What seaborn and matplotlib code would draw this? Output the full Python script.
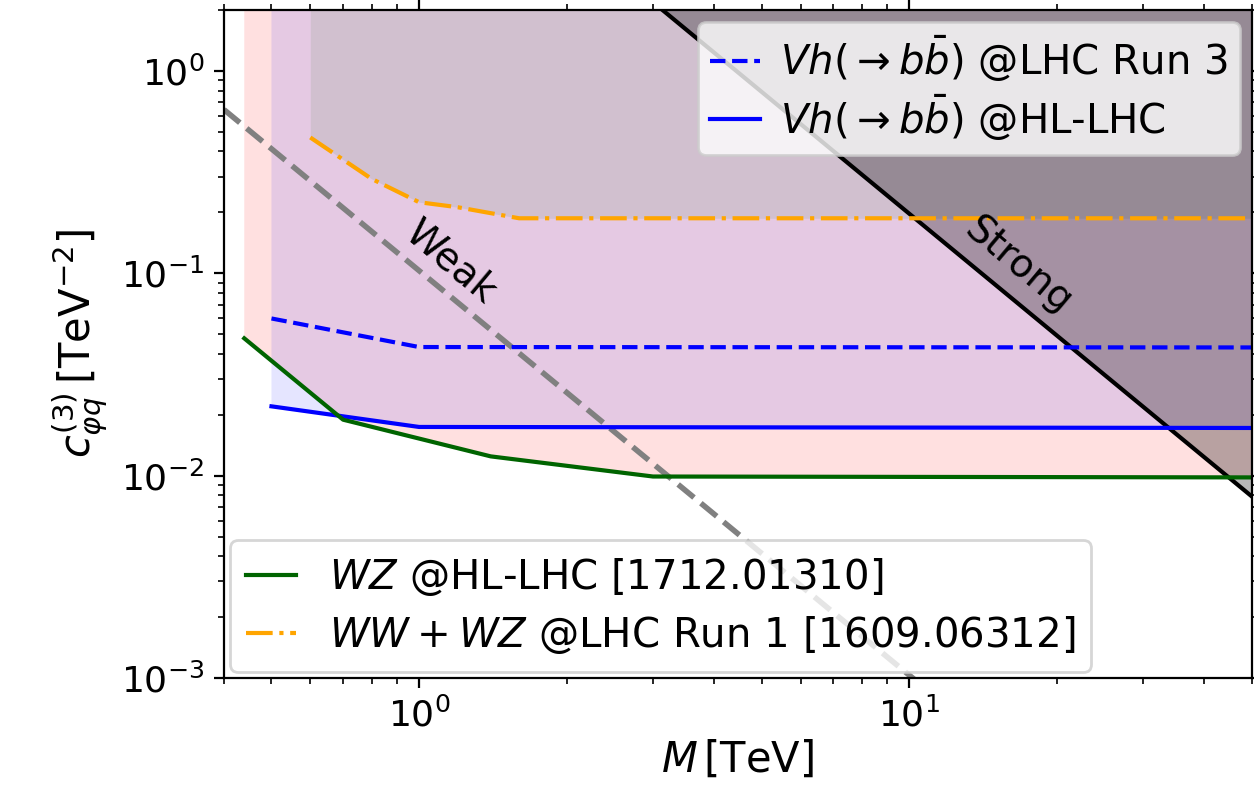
import numpy as np
import pandas as pd
import matplotlib
matplotlib.use("Agg")
import matplotlib.pyplot as plt
import seaborn as sns

# limits (M in TeV, c in TeV^-2)
wz_m = [0.44, 0.70, 1.40, 3.0, 50.0]
wz_c = [0.0477, 0.0189, 0.01245, 0.0099, 0.0098]

vh_m = [0.5, 1.0, 50.0]
vh_run3_c = [0.0598, 0.0432, 0.0430]
vh_hl_c = [0.0220, 0.0174, 0.0172]

ww_m = [0.6, 0.8, 1.0, 1.2, 1.6, 50.0]
ww_c = [0.469, 0.293, 0.2245, 0.212, 0.187, 0.187]

weak_m = [0.4, 20.0]
weak_c = [0.644, 2.58e-4]

strong_m = [0.4, 60.0]
strong_c = [123.0, 0.00547]

top = 1e3

fig, ax = plt.subplots(figsize=(6.27, 3.975), dpi=200)
fig.subplots_adjust(left=0.1786, right=0.9984, bottom=0.1472, top=0.9874)
ax.set_xscale('log')
ax.set_yscale('log')

# excluded regions
ax.fill_between(wz_m, wz_c, top, color='red', alpha=0.12, lw=0)
ax.fill_between(vh_m, vh_hl_c, top, color='blue', alpha=0.1, lw=0)
ax.fill_between(ww_m, ww_c, top, color='0.7', alpha=0.4, lw=0)
ax.fill_between(strong_m, strong_c, top, color='black', alpha=0.28, lw=0)

weak = pd.DataFrame({'M': weak_m, 'c': weak_c})
strong = pd.DataFrame({'M': strong_m, 'c': strong_c})
sns.lineplot(data=weak, x='M', y='c', ax=ax, color='gray', ls='--', lw=2, legend=False)
sns.lineplot(data=strong, x='M', y='c', ax=ax, color='black', lw=1.5, legend=False)

h_run3 = sns.lineplot(x=vh_m, y=vh_run3_c, ax=ax, color='blue', ls='--', lw=1.5).lines[-1]
h_hl = sns.lineplot(x=vh_m, y=vh_hl_c, ax=ax, color='blue', lw=1.5).lines[-1]
h_wz = sns.lineplot(x=wz_m, y=wz_c, ax=ax, color='darkgreen', lw=1.5).lines[-1]
h_ww = sns.lineplot(x=ww_m, y=ww_c, ax=ax, color='orange', ls='-.', lw=1.5).lines[-1]

ax.text(1.16, 0.113, 'Weak', rotation=-40, ha='center', va='center', fontsize=14)
ax.text(16.7, 0.109, 'Strong', rotation=-40, ha='center', va='center', fontsize=14)

ax.set_xlim(0.4, 50)
ax.set_ylim(1e-3, 2)
ax.tick_params(which='both', top=True, right=True, direction='out')
ax.tick_params(labelsize=13)
ax.set_xlabel(r'$M\,$[TeV]', fontsize=15, labelpad=2)
ax.set_ylabel(r'$c_{\varphi q}^{(3)}\,$[TeV$^{-2}$]', fontsize=15, labelpad=4)

leg1 = ax.legend([h_run3, h_hl],
                 [r'$Vh(\rightarrow b\bar{b})$ @LHC Run 3', r'$Vh(\rightarrow b\bar{b})$ @HL-LHC'],
                 loc='upper right', borderaxespad=0.3, fontsize=14.5, handlelength=1.25,
                 handletextpad=0.5, borderpad=0.3, labelspacing=0.2)
ax.add_artist(leg1)
ax.legend([h_wz, h_ww],
          [r'$WZ$ @HL-LHC [1712.01310]', r'$WW+WZ$ @LHC Run 1 [1609.06312]'],
          loc='lower left', borderaxespad=0.15, fontsize=14.5, handlelength=1.25,
          handletextpad=0.8, borderpad=0.4, labelspacing=0.4)

fig.savefig('out.png', dpi=200)
